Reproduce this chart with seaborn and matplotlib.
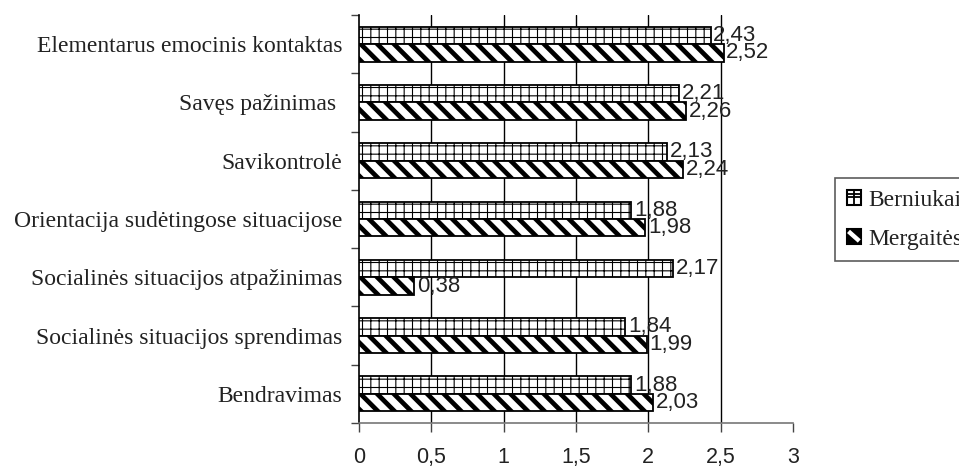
import matplotlib
matplotlib.use("Agg")
import matplotlib.pyplot as plt
import matplotlib.patches as mpatches
from matplotlib.lines import Line2D
from matplotlib.legend_handler import HandlerBase
import seaborn as sns
import pandas as pd

categories = [
    "Elementarus emocinis kontaktas",
    "Savęs pažinimas ",
    "Savikontrolė",
    "Orientacija sudėtingose situacijose",
    "Socialinės situacijos atpažinimas",
    "Socialinės situacijos sprendimas",
    "Bendravimas",
]
series_names = ["Berniukai", "Mergaitės"]
berniukai = [2.43, 2.21, 2.13, 1.88, 2.17, 1.84, 1.88]
mergaites = [2.52, 2.26, 2.24, 1.98, 0.38, 1.99, 2.03]
xticks = [0, 0.5, 1, 1.5, 2, 2.5, 3]
xtick_labels = ["0", "0,5", "1", "1,5", "2", "2,5", "3"]

df = pd.DataFrame({
    "Kategorija": categories * 2,
    "Reikšmė": berniukai + mergaites,
    "Grupė": [series_names[0]] * len(categories) + [series_names[1]] * len(categories),
})

sns.set_style("white")
plt.rcParams["font.family"] = ["Liberation Serif", "DejaVu Serif"]
plt.rcParams["hatch.color"] = "black"

fig = plt.figure(figsize=(9.59, 4.68), dpi=100)
ax = fig.add_axes([359 / 959, 45 / 468, (793 - 359) / 959, (423 - 15) / 468])

sns.barplot(data=df, y="Kategorija", x="Reikšmė", hue="Grupė", orient="h",
            order=categories, hue_order=series_names, width=0.6,
            ax=ax, legend=False, errorbar=None, zorder=3)

hatches = ["++", "\\\\"]
hlw = [0.8, 3.4]
for cont, h, lw in zip(ax.containers, hatches, hlw):
    for p in cont:
        p.set_facecolor("white")
        p.set_edgecolor("black")
        p.set_linewidth(1.3)
        p.set_hatch(h)
        try:
            p.set_hatch_linewidth(lw)
        except Exception:
            pass
    vals = [p.get_width() for p in cont]
    ax.bar_label(cont, labels=[f"{v:.2f}".replace(".", ",") for v in vals],
                 padding=2, fontsize=16, family="Liberation Sans", color="#222222")

ax.set_xlim(0, 3)
ax.set_ylim(6.5, -0.5)
ax.set_xticks(xticks)
ax.set_xticklabels(xtick_labels, fontsize=15.5, family="Liberation Sans", color="#222222")
ax.tick_params(axis="x", direction="out", length=6.5, width=1, color="#444444", pad=11, bottom=True)
ax.set_yticks(range(len(categories)))
ax.set_yticklabels([c for c in categories], fontsize=17, color="#222222")
ax.tick_params(axis="y", length=0, pad=12)
ax.set_yticks([i - 0.5 for i in range(len(categories) + 1)], minor=True)
ax.tick_params(axis="y", which="minor", direction="out", length=5.8, width=1, color="#444444", left=True)
ax.set_xlabel("")
ax.set_ylabel("")

for x in xticks[1:-1]:
    ax.axvline(x, color="black", linewidth=1, zorder=1)

for s in ["top", "right"]:
    ax.spines[s].set_visible(False)
ax.spines["left"].set_color("black")
ax.spines["left"].set_linewidth(1.2)
ax.spines["bottom"].set_color("#777777")
ax.spines["bottom"].set_linewidth(1.2)


class GridHandler(HandlerBase):
    def create_artists(self, legend, orig_handle, xdescent, ydescent, width, height, fontsize, trans):
        x0, y0 = -xdescent, -ydescent
        rect = mpatches.Rectangle((x0, y0), width, height, facecolor="white",
                                  edgecolor="black", linewidth=1.5, transform=trans)
        hl = Line2D([x0, x0 + width], [y0 + height * 0.5] * 2, color="black", lw=1.3, transform=trans)
        vl = Line2D([x0 + width * 0.5] * 2, [y0, y0 + height], color="black", lw=1.3, transform=trans)
        hl2 = Line2D([x0, x0 + width], [y0 + height * 0.72] * 2, color="black", lw=1.3, transform=trans)
        return [rect, hl, vl, hl2]


class StripeHandler(HandlerBase):
    def create_artists(self, legend, orig_handle, xdescent, ydescent, width, height, fontsize, trans):
        x0, y0 = -xdescent, -ydescent
        rect = mpatches.Rectangle((x0, y0), width, height, facecolor="black",
                                  edgecolor="black", linewidth=1.5, transform=trans)
        band = Line2D([x0 + width * 0.12, x0 + width * 0.88],
                      [y0 + height * 0.82, y0 + height * 0.18],
                      color="white", lw=3.2, solid_capstyle="butt", transform=trans)
        return [rect, band]


h1 = mpatches.Patch(label=series_names[0])
h2 = mpatches.Patch(label=series_names[1])
leg = fig.legend(handles=[h1, h2], loc="upper left", bbox_to_anchor=(835 / 959, 1 - 178 / 468),
                 fontsize=17, frameon=True, fancybox=False, borderaxespad=0,
                 handlelength=0.6, handleheight=0.6, handletextpad=0.3, labelspacing=0.75,
                 borderpad=0.5, handler_map={h1: GridHandler(), h2: StripeHandler()})
leg.get_frame().set_edgecolor("#333333")
leg.get_frame().set_linewidth(1.2)
for t in leg.get_texts():
    t.set_color("#222222")

fig.savefig("out.png", dpi=100)
